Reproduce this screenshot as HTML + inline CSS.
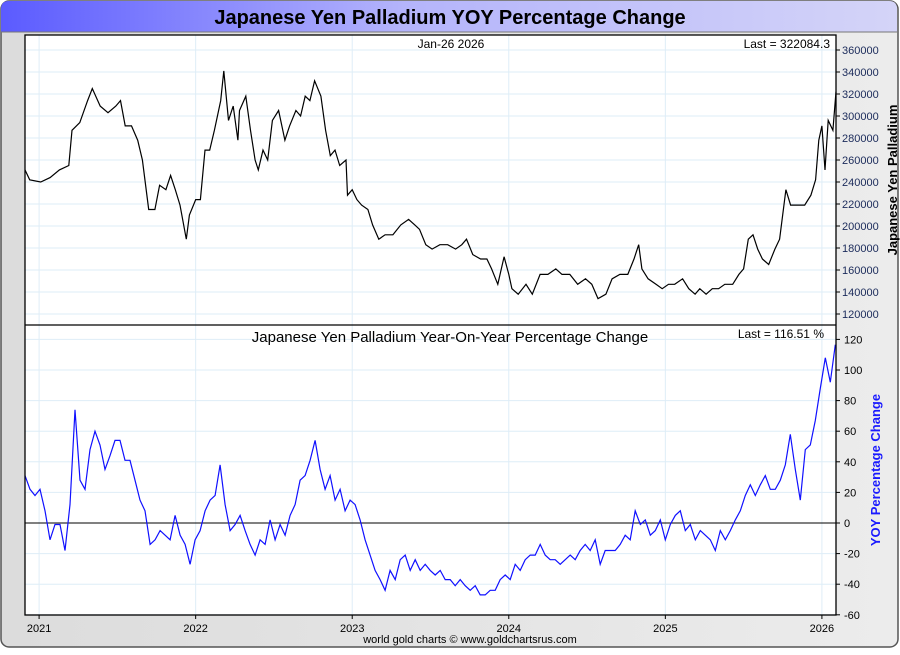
<!DOCTYPE html>
<html><head><meta charset="utf-8"><style>
body{margin:0;width:900px;height:650px;overflow:hidden;background:#fff;font-family:"Liberation Sans",sans-serif}
</style></head><body>
<svg id="c" width="900" height="650" xmlns="http://www.w3.org/2000/svg">
<defs>
<linearGradient id="tg" x1="0" x2="1" y1="0" y2="0"><stop offset="0" stop-color="#5b5bff"/><stop offset="0.45" stop-color="#b4b4fb"/><stop offset="1" stop-color="#d4d4f8"/></linearGradient>
<linearGradient id="bg" x1="0" x2="1" y1="0" y2="0"><stop offset="0" stop-color="#dcdcdc"/><stop offset="1" stop-color="#ececec"/></linearGradient>
</defs>
<rect x="1" y="1" width="897" height="646" rx="8" fill="url(#bg)" stroke="#555" stroke-width="1.5"/>
<path d="M1,32 L1,9 Q1,1 9,1 L889,1 Q897,1 897,9 L897,32 Z" fill="url(#tg)"/>
<line x1="1" y1="32" x2="897" y2="32" stroke="#777"/>
<text x="450" y="24" text-anchor="middle" font-size="20" font-weight="bold" fill="#000">Japanese Yen Palladium YOY Percentage Change</text>
<rect x="25" y="35" width="811" height="580" fill="#fff"/>
<g id="grid"></g>
<g id="series"></g>
<rect x="25" y="35" width="811" height="580" fill="none" stroke="#000" stroke-width="1.3"/>
<line x1="25" y1="325" x2="836" y2="325" stroke="#000" stroke-width="1.3"/>
<text x="451" y="48" text-anchor="middle" font-size="12">Jan-26  2026</text>
<text x="830" y="48" text-anchor="end" font-size="12">Last = 322084.3</text>
<text x="450" y="342" text-anchor="middle" font-size="15">Japanese Yen Palladium Year-On-Year Percentage Change</text>
<text x="824" y="338" text-anchor="end" font-size="12">Last = 116.51 %</text>
<text transform="translate(897,180) rotate(-90)" text-anchor="middle" font-size="13" font-weight="bold" fill="#000">Japanese Yen Palladium</text>
<text transform="translate(880,470) rotate(-90)" text-anchor="middle" font-size="13" font-weight="bold" fill="#1a1aff">YOY Percentage Change</text>
<text x="470" y="643" text-anchor="middle" font-size="11">world gold charts © www.goldchartsrus.com</text>
</svg>
<script>
const yearTicks=[2021,2022,2023,2024,2025,2026];
const priceTicks=[120000,140000,160000,180000,200000,220000,240000,260000,280000,300000,320000,340000,360000];
const yoyTicks=[-60,-40,-20,0,20,40,60,80,100,120];
const priceDates=[2020.91,2020.94,2021.01,2021.07,2021.13,2021.19,2021.21,2021.26,2021.31,2021.34,2021.39,2021.44,2021.49,2021.52,2021.55,2021.59,2021.63,2021.66,2021.70,2021.74,2021.77,2021.81,2021.84,2021.87,2021.90,2021.94,2021.96,2022.00,2022.03,2022.06,2022.09,2022.12,2022.16,2022.18,2022.21,2022.24,2022.27,2022.28,2022.32,2022.35,2022.38,2022.40,2022.43,2022.46,2022.49,2022.53,2022.57,2022.60,2022.64,2022.67,2022.70,2022.73,2022.76,2022.80,2022.83,2022.86,2022.89,2022.92,2022.96,2022.97,2023.00,2023.03,2023.06,2023.10,2023.13,2023.17,2023.21,2023.26,2023.31,2023.36,2023.40,2023.43,2023.47,2023.51,2023.56,2023.61,2023.66,2023.70,2023.73,2023.77,2023.82,2023.86,2023.89,2023.93,2023.97,2024.00,2024.02,2024.06,2024.11,2024.15,2024.20,2024.25,2024.30,2024.34,2024.39,2024.44,2024.49,2024.53,2024.57,2024.62,2024.66,2024.71,2024.76,2024.80,2024.83,2024.85,2024.89,2024.94,2024.98,2025.02,2025.06,2025.11,2025.15,2025.19,2025.22,2025.26,2025.30,2025.34,2025.38,2025.43,2025.47,2025.50,2025.53,2025.56,2025.59,2025.62,2025.66,2025.70,2025.73,2025.77,2025.80,2025.84,2025.89,2025.93,2025.96,2025.98,2026.00,2026.02,2026.04,2026.07,2026.09];
const priceValues=[251,242,240,244,251,255,287,294,314,325,309,303,309,314,291,291,278,260,215,215,237,233,246,233,219,188,210,224,224,269,269,287,314,341,296,309,278,305,318,287,260,251,269,260,296,305,278,291,305,300,318,314,332,318,287,264,269,255,260,228,233,224,219,215,201,188,192,192,201,206,201,197,183,179,183,183,179,183,188,174,170,170,161,147,172,156,143,138,147,138,156,156,161,156,156,147,152,147,134,138,152,156,156,170,183,161,152,147,143,147,147,152,143,138,143,138,143,143,147,147,156,161,188,192,179,170,165,179,188,233,219,219,219,228,242,278,291,251,296,287,322.08];
const yoyStart=2020.91, yoyStep=5/156.5;
const yoyValues=[31,22,18,22,8,-11,-1,-1,-18,12,74,28,22,48,60,51,35,44,54,54,41,41,28,15,8,-14,-11,-5,-8,-11,5,-8,-14,-27,-11,-5,8,15,18,38,12,-5,-1,5,-5,-14,-21,-11,-14,2,-11,-1,-8,5,12,28,31,41,54,35,22,31,15,22,8,15,12,2,-11,-21,-31,-37,-44,-31,-37,-24,-21,-31,-24,-31,-27,-31,-34,-31,-37,-37,-41,-37,-41,-44,-41,-47,-47,-44,-44,-37,-34,-37,-27,-31,-24,-21,-21,-14,-21,-24,-24,-27,-24,-21,-24,-18,-14,-18,-11,-27,-18,-18,-18,-14,-8,-11,8,-1,2,-8,-5,2,-11,-1,5,8,-5,-1,-11,-5,-8,-11,-18,-5,-11,-5,2,8,18,25,18,25,31,22,22,28,38,58,35,15,48,51,67,88,108,92,116.51];

const NS='http://www.w3.org/2000/svg';
const X0=25,X1=836;
const xS=d=>X0+(d-2020.91)/(2026.09-2020.91)*(X1-X0);
const yP=v=>314-(v-120000)/20000*22;
const yY=v=>523-v*1.53;
const grid=document.getElementById('grid'), ser=document.getElementById('series'), svg=document.getElementById('c');
function mk(tag,attrs,parent){const e=document.createElementNS(NS,tag);for(const k in attrs)e.setAttribute(k,attrs[k]);parent.appendChild(e);return e;}
yearTicks.forEach(y=>{
  const x=xS(y);
  const g=mk('line',{x1:x,y1:35,x2:x,y2:615,stroke:'#deedf7'},grid);
  
  
  mk('line',{x1:x,y1:615,x2:x,y2:619,stroke:'#000'},svg);
  const t=mk('text',{x:x,y:632,'text-anchor':'middle','font-size':11},svg);
  t.textContent=y;
  
  
});
priceTicks.forEach(v=>{
  const y=yP(v);
  mk('line',{x1:X0,y1:y,x2:X1,y2:y,stroke:'#deedf7'},grid);
  mk('line',{x1:X1,y1:y,x2:X1+4,y2:y,stroke:'#000'},svg);
  const t=mk('text',{x:842,y:y+4,'font-size':11,fill:'#1a2a5a'},svg);
  t.textContent=v;
  
  
});
yoyTicks.forEach(v=>{
  const y=yY(v);
  mk('line',{x1:X0,y1:y,x2:X1,y2:y,stroke:v===0?'#000':'#deedf7'},grid);
  mk('line',{x1:X1,y1:y,x2:X1+4,y2:y,stroke:'#000'},svg);
  const t=mk('text',{x:844,y:y+4,'font-size':11,fill:'#000'},svg);
  t.textContent=v;
  
  
});
let d1=priceDates.map((d,i)=>(i?'L':'M')+xS(d).toFixed(1)+','+yP(priceValues[i]*1000).toFixed(1)).join(' ');
const p1=mk('path',{d:d1,fill:'none',stroke:'#000','stroke-width':1.2},ser);


let d2=yoyValues.map((v,i)=>(i?'L':'M')+xS(yoyStart+i*yoyStep).toFixed(1)+','+yY(v).toFixed(1)).join(' ');
const p2=mk('path',{d:d2,fill:'none',stroke:'#1010ff','stroke-width':1.2},ser);


</script>
</body></html>
